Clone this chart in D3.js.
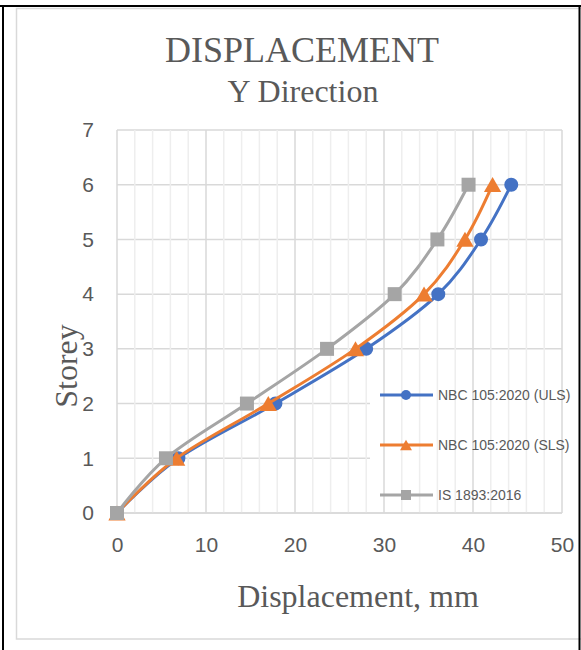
<!DOCTYPE html>
<html>
<head>
<meta charset="utf-8">
<script src="https://cdn.jsdelivr.net/npm/d3@7"></script>
<style>
    body { margin: 0; background: #fff; }
    svg { display: block; }
    .tick text { font-family: "Liberation Sans", Arial, sans-serif; font-size: 21px; fill: #595959; }
</style>
</head>
<body>
<svg></svg>
<script>
// storey levels and displacement (mm)
var storeys = [0, 1, 2, 3, 4, 5, 6];
var ulsValues = [0, 6.9, 17.8, 28.0, 36.1, 40.9, 44.3];
var slsValues = [0, 6.7, 17.0, 26.8, 34.5, 39.1, 42.2];
var isValues = [0, 5.5, 14.6, 23.6, 31.2, 36.0, 39.5];
var seriesNames = ["NBC 105:2020 (ULS)", "NBC 105:2020 (SLS)", "IS 1893:2016"];
var xTicks = [0, 10, 20, 30, 40, 50];
var yTicks = [0, 1, 2, 3, 4, 5, 6, 7];

var width = 581, height = 650;
var svg = d3.select("svg").attr("width", width).attr("height", height);

var colors = ["#4472C4", "#ED7D31", "#A5A5A5"];
var shapes = [d3.symbolCircle, d3.symbolTriangle, d3.symbolSquare];
var series = [ulsValues, slsValues, isValues].map(function (vals, i) {
    return {
        name: seriesNames[i],
        color: colors[i],
        shape: shapes[i],
        points: vals.map(function (v, j) { return { x: v, y: storeys[j] }; })
    };
});

var x = d3.scaleLinear().domain([0, 50]).range([117, 562]);
var y = d3.scaleLinear().domain([0, 7]).range([513, 130]);

//chart area border (light) and the black frame lines
svg.append("rect")
    .attr("x", 16.5).attr("y", 8.5)
    .attr("width", 620).attr("height", 630.5)
    .attr("fill", "#fff")
    .attr("stroke", "#d9d9d9")
    .attr("stroke-width", 1.5);
svg.append("line").attr("x1", 0).attr("x2", width).attr("y1", 6).attr("y2", 6)
    .attr("stroke", "#000").attr("stroke-width", 2);
svg.append("line").attr("x1", 3).attr("x2", 3).attr("y1", 5).attr("y2", height)
    .attr("stroke", "#000").attr("stroke-width", 2);
svg.append("line").attr("x1", 579.5).attr("x2", 579.5).attr("y1", 5).attr("y2", height)
    .attr("stroke", "#000").attr("stroke-width", 2);

//horizontal gridlines
svg.append("g")
    .selectAll("line")
    .data(yTicks)
    .enter().append("line")
    .attr("x1", x(0)).attr("x2", x(50))
    .attr("y1", function (d) { return y(d); })
    .attr("y2", function (d) { return y(d); })
    .attr("stroke", "#d9d9d9")
    .attr("stroke-width", 1.5);

//legend background hides the horizontal lines behind it
svg.append("rect")
    .attr("x", 370).attr("y", 372)
    .attr("width", 200).attr("height", 136)
    .attr("fill", "#fff");

//vertical gridlines, minor then major
svg.append("g")
    .selectAll("line")
    .data(d3.range(0, 51, 2).filter(function (d) { return d % 10 != 0; }))
    .enter().append("line")
    .attr("x1", function (d) { return x(d); })
    .attr("x2", function (d) { return x(d); })
    .attr("y1", y(7)).attr("y2", y(0))
    .attr("stroke", "#eeeeee")
    .attr("stroke-width", 1.5);
svg.append("g")
    .selectAll("line")
    .data(xTicks)
    .enter().append("line")
    .attr("x1", function (d) { return x(d); })
    .attr("x2", function (d) { return x(d); })
    .attr("y1", y(7)).attr("y2", y(0))
    .attr("stroke", "#d9d9d9")
    .attr("stroke-width", 1.5);
svg.append("line")
    .attr("x1", x(0)).attr("x2", x(50))
    .attr("y1", y(0)).attr("y2", y(0))
    .attr("stroke", "#d9d9d9")
    .attr("stroke-width", 1.5);

//axes (labels only)
var xAxis = svg.append("g")
    .attr("transform", "translate(0," + y(0) + ")")
    .call(d3.axisBottom(x).tickValues(xTicks).tickFormat(d3.format("d")).tickSize(0).tickPadding(24));
xAxis.select(".domain").remove();
var yAxis = svg.append("g")
    .attr("transform", "translate(" + x(0) + ",0)")
    .call(d3.axisLeft(y).tickValues(yTicks).tickFormat(d3.format("d")).tickSize(0).tickPadding(23));
yAxis.select(".domain").remove();

//titles
svg.append("text")
    .text("DISPLACEMENT")
    .attr("x", 302).attr("y", 62)
    .attr("text-anchor", "middle")
    .attr("font-family", "'Liberation Serif', 'Times New Roman', serif")
    .attr("font-size", 36)
    .attr("fill", "#595959");
svg.append("text")
    .text("Y Direction")
    .attr("x", 303).attr("y", 102)
    .attr("text-anchor", "middle")
    .attr("font-family", "'Liberation Serif', 'Times New Roman', serif")
    .attr("font-size", 32)
    .attr("fill", "#595959");
svg.append("text")
    .text("Storey")
    .attr("transform", "translate(77," + 366 + ") rotate(-90)")
    .attr("text-anchor", "middle")
    .attr("font-family", "'Liberation Serif', 'Times New Roman', serif")
    .attr("font-size", 32)
    .attr("fill", "#595959");
svg.append("text")
    .text("Displacement, mm")
    .attr("x", 358).attr("y", 607)
    .attr("text-anchor", "middle")
    .attr("font-family", "'Liberation Serif', 'Times New Roman', serif")
    .attr("font-size", 32)
    .attr("fill", "#595959");

//smoothed lines like excel
var line = d3.line()
    .x(function (d) { return x(d.x); })
    .y(function (d) { return y(d.y); })
    .curve(d3.curveCatmullRom.alpha(0));

function markerSize(shape, big) {
    if (shape == d3.symbolCircle) return big ? 154 : 78;
    if (shape == d3.symbolSquare) return big ? 196 : 100;
    return big ? 130 : 62;
}
function markerShift(shape, big) {
    // d3 triangles sit on their centroid, move down to centre the box
    if (shape == d3.symbolTriangle) return big ? 2.4 : 1.7;
    return 0;
}

var seriesG = svg.append("g")
    .selectAll("g")
    .data(series)
    .enter().append("g");
seriesG.append("path")
    .attr("d", function (d) { return line(d.points); })
    .attr("fill", "none")
    .attr("stroke", function (d) { return d.color; })
    .attr("stroke-width", 3)
    .attr("stroke-linejoin", "round")
    .attr("stroke-linecap", "round");
seriesG.each(function (s) {
    d3.select(this).selectAll(".mark")
        .data(s.points)
        .enter().append("path")
        .attr("class", "mark")
        .attr("d", d3.symbol().type(s.shape).size(markerSize(s.shape, true)))
        .attr("transform", function (d) {
            return "translate(" + x(d.x) + "," + (y(d.y) + markerShift(s.shape, true)) + ")";
        })
        .attr("fill", s.color);
});

//legend
var legend = svg.append("g")
    .selectAll("g")
    .data(series)
    .enter().append("g")
    .attr("transform", function (d, i) { return "translate(0," + (395 + i * 50) + ")"; });
legend.append("line")
    .attr("x1", 380).attr("x2", 433)
    .attr("y1", 0).attr("y2", 0)
    .attr("stroke", function (d) { return d.color; })
    .attr("stroke-width", 3);
legend.append("path")
    .attr("d", function (d) { return d3.symbol().type(d.shape).size(markerSize(d.shape, false))(); })
    .attr("transform", function (d) { return "translate(406," + markerShift(d.shape, false) + ")"; })
    .attr("fill", function (d) { return d.color; });
legend.append("text")
    .text(function (d) { return d.name; })
    .attr("x", 438).attr("y", 0)
    .attr("dy", "0.35em")
    .attr("font-family", "'Liberation Sans', Arial, sans-serif")
    .attr("font-size", 14)
    .attr("fill", "#595959");
</script>
</body>
</html>
